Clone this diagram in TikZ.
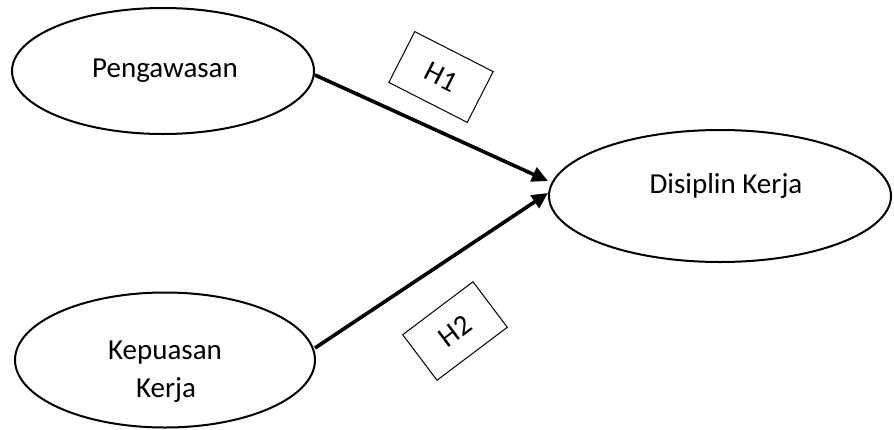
\documentclass[tikz,border=0pt]{standalone}
\usepackage{fontspec}
\setmainfont{Carlito}
\usetikzlibrary{shapes.geometric,arrows.meta,calc}
\begin{document}
\begin{tikzpicture}[x=0.5pt,y=-0.5pt,
  oval/.style={ellipse,draw,line width=1pt,inner sep=0pt},
  lbl/.style={font=\fontsize{14.5}{19}\selectfont,inner sep=0pt,anchor=base},
  hbox/.style={draw,line width=0.5pt,minimum width=44pt,minimum height=28.5pt,inner sep=0pt,font=\fontsize{14.5}{19}\selectfont},
  link/.style={line width=1.8pt,-{Triangle[length=8pt,width=7.5pt]}}]
\useasboundingbox (0,0) rectangle (894,429);
\node[oval,minimum width=151pt,minimum height=63pt] (p) at (163,71) {};
\node[oval,minimum width=171pt,minimum height=66pt] (d) at (720,196) {};
\node[oval,minimum width=150pt,minimum height=67.5pt] (k) at (165,360) {};
\node[lbl] (pt) at (165,77) {Pengawasan};
\node[lbl] (dt) at (726,193) {Disiplin Kerja};
\node[lbl] (kt1) at (165,359) {Kepuasan};
\node[lbl] (kt2) at (166,397) {Kerja};
\node[hbox,rotate=-27] (h1) at (441,77) {H1};
\node[hbox,rotate=37] (h2) at (455,331) {H2};
\coordinate (d1) at ($(d.west)+(0,-15)$);
\coordinate (d2) at ($(d.west)+(0,-3)$);
\coordinate (p1) at ($(p.east)+(0,4)$);
\coordinate (k1) at ($(k.east)+(-1,-12)$);
\draw[link] (p1) -- (d1);
\draw[link] (k1) -- (d2);
\end{tikzpicture}
\end{document}
